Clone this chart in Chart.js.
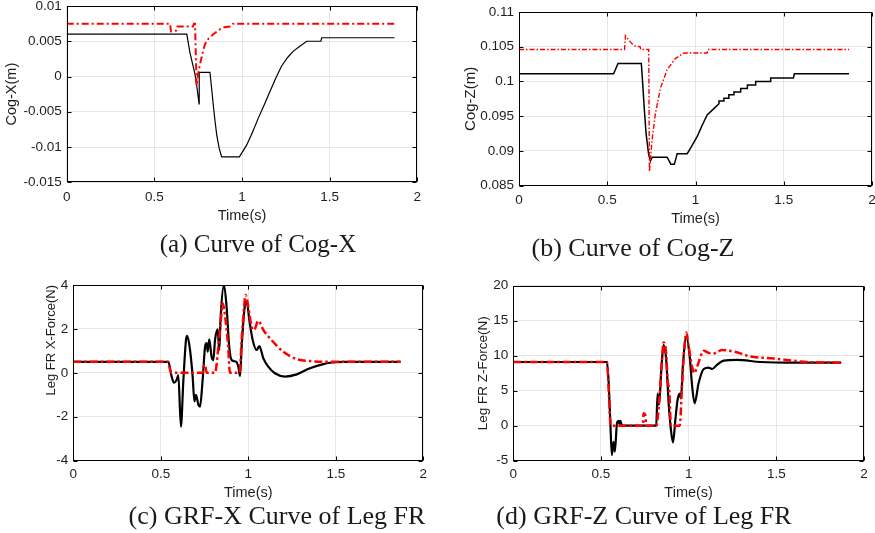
<!DOCTYPE html>
<html>
<head>
<meta charset="utf-8">
<script src="https://cdn.jsdelivr.net/npm/chart.js@4.4.1/dist/chart.umd.min.js"></script>
<style>
  body { margin: 0; background: #fff; width: 875px; height: 533px; position: relative; overflow: hidden; }
  canvas { position: absolute; }
  .cap { position: absolute; width: 400px; text-align: center; white-space: nowrap;
         font-family: 'Liberation Serif', 'Times New Roman', serif; font-size: 26px; line-height: 30px; color: #1a1a1a; }
</style>
</head>
<body>
<canvas id="pa" width="430" height="230" style="left:0;top:0"></canvas>
<canvas id="pb" width="435" height="230" style="left:440px;top:0"></canvas>
<canvas id="pc" width="440" height="240" style="left:0;top:270px"></canvas>
<canvas id="pd" width="435" height="240" style="left:440px;top:270px"></canvas>
<div class="cap" style="left:58px;top:229px;font-size:25px">(a) Curve of Cog-X</div>
<div class="cap" style="left:433px;top:233px">(b) Curve of Cog-Z</div>
<div class="cap" style="left:77px;top:501px">(c) GRF-X Curve of Leg FR</div>
<div class="cap" style="left:444px;top:501px">(d) GRF-Z Curve of Leg FR</div>
<script>
// shared x axis
const xTicks = [0, 0.5, 1, 1.5, 2]
const xTickLabels = ['0', '0.5', '1', '1.5', '2']

// (a) Cog-X
const cogXTicks = [-0.015, -0.01, -0.005, 0, 0.005, 0.01]
const cogXTickLabels = ['-0.015', '-0.01', '-0.005', '0', '0.005', '0.01']
const cogXTimeBlack = [0, 0.685, 0.703, 0.718, 0.732, 0.744, 0.755, 0.756, 0.817, 0.826, 0.836, 0.846, 0.856, 0.870, 0.884, 0.985, 1.0, 1.027, 1.06, 1.093, 1.127, 1.16, 1.193, 1.226, 1.26, 1.293, 1.33, 1.369, 1.45, 1.455, 1.87]
const cogXBlack = [0.006, 0.006, 0.0034, 0.0018, 0.0003, -0.0017, -0.0039, 0.0006, 0.0006, -0.0015, -0.004, -0.0063, -0.0083, -0.0102, -0.0114, -0.0114, -0.0108, -0.0097, -0.0079, -0.0059, -0.004, -0.0021, -0.0002, 0.0015, 0.0027, 0.0036, 0.0043, 0.0050, 0.0050, 0.0055, 0.0055]
const cogXTimeRed = [0, 0.589, 0.595, 0.625, 0.632, 0.72, 0.726, 0.732, 0.741, 0.75, 0.76, 0.775, 0.789, 0.81, 0.836, 0.874, 0.90, 0.932, 0.95, 1.87]
const cogXRed = [0.0075, 0.0075, 0.0064, 0.0065, 0.0071, 0.0071, 0.0075, 0.0075, -0.0013, 0.0004, 0.0017, 0.0033, 0.0046, 0.0054, 0.006, 0.0067, 0.007, 0.0071, 0.0075, 0.0075]

// (b) Cog-Z
const cogZTicks = [0.085, 0.09, 0.095, 0.1, 0.105, 0.11]
const cogZTickLabels = ['0.085', '0.09', '0.095', '0.1', '0.105', '0.11']
const cogZTimeBlack = [0, 0.536, 0.561, 0.693, 0.70, 0.71, 0.72, 0.735, 0.745, 0.755, 0.839, 0.85, 0.86, 0.88, 0.89, 0.896, 0.953, 0.972, 1.01, 1.038, 1.066, 1.104, 1.133, 1.133, 1.161, 1.161, 1.189, 1.189, 1.218, 1.218, 1.256, 1.256, 1.294, 1.294, 1.341, 1.341, 1.426, 1.426, 1.555, 1.56, 1.87]
const cogZBlack = [0.1011, 0.1011, 0.1026, 0.1026, 0.1000, 0.0960, 0.0925, 0.0894, 0.0886, 0.0891, 0.0891, 0.0886, 0.0881, 0.0881, 0.0890, 0.0896, 0.0896, 0.0904, 0.0921, 0.0937, 0.0952, 0.0961, 0.0968, 0.0972, 0.0972, 0.0976, 0.0976, 0.0981, 0.0981, 0.0985, 0.0985, 0.0990, 0.0990, 0.0995, 0.0995, 0.1000, 0.1000, 0.1005, 0.1005, 0.1011, 0.1011]
const cogZTimeRed = [0, 0.598, 0.603, 0.615, 0.631, 0.645, 0.659, 0.686, 0.69, 0.735, 0.739, 0.754, 0.773, 0.801, 0.839, 0.886, 0.934, 1.066, 1.07, 1.87]
const cogZRed = [0.1046, 0.1046, 0.1066, 0.1062, 0.1057, 0.1053, 0.1051, 0.1050, 0.1046, 0.1046, 0.0870, 0.0916, 0.0954, 0.0990, 0.1017, 0.1033, 0.1041, 0.1041, 0.1046, 0.1046]

// (c) GRF-X of leg FR
const grfXTicks = [-4, -2, 0, 2, 4]
const grfXTickLabels = ['-4', '-2', '0', '2', '4']
const grfXTimeBlack = [0, 0.543, 0.562, 0.575, 0.59, 0.6, 0.615, 0.629, 0.644, 0.651, 0.667, 0.682, 0.692, 0.701, 0.715, 0.724, 0.739, 0.753, 0.762, 0.768, 0.777, 0.79, 0.8, 0.81, 0.825, 0.834, 0.842, 0.861, 0.876, 0.891, 0.905, 0.93, 0.943, 0.953, 0.962, 0.981, 0.991, 1.006, 1.025, 1.048, 1.063, 1.086, 1.114, 1.152, 1.21, 1.277, 1.352, 1.429, 1.467, 1.55, 1.87]
const grfXBlack = [0.5, 0.5, -0.17, -0.45, -0.33, -0.1, -2.45, -0.33, 1.5, 1.68, 1.04, -0.17, -1.3, -1.0, -1.46, -1.54, -0.33, 1.19, 1.35, 0.96, 1.53, 0.74, 0.58, 1.5, 1.98, 1.04, 2.56, 4.0, 3.0, 1.19, 0.58, 0.51, 0.28, -0.14, 1.19, 3.09, 3.24, 2.4, 1.5, 1.04, 1.22, 0.66, 0.28, -0.02, -0.17, -0.07, 0.21, 0.4, 0.46, 0.5, 0.5]
const grfXTimeRed = [0, 0.543, 0.553, 0.562, 0.739, 0.746, 0.753, 0.762, 0.81, 0.829, 0.842, 0.853, 0.87, 0.885, 0.895, 0.95, 0.962, 0.976, 0.985, 1.0, 1.019, 1.033, 1.057, 1.086, 1.124, 1.2, 1.276, 1.352, 1.45, 1.87]
const grfXRed = [0.5, 0.5, 0.13, 0, 0, 0.3, 0.36, 0, 0, 1.19, 2.26, 3.17, 2.4, 1.19, 0, 0, 1.5, 3.0, 3.55, 3.0, 2.1, 1.95, 2.37, 1.95, 1.57, 0.96, 0.63, 0.54, 0.5, 0.5]

// (d) GRF-Z of leg FR
const grfZTicks = [-5, 0, 5, 10, 15, 20]
const grfZTickLabels = ['-5', '0', '5', '10', '15', '20']
const grfZTimeBlack = [0, 0.534, 0.543, 0.553, 0.562, 0.571, 0.579, 0.591, 0.6, 0.606, 0.611, 0.619, 0.815, 0.823, 0.831, 0.844, 0.857, 0.872, 0.886, 0.899, 0.911, 0.924, 0.937, 0.949, 0.956, 0.968, 0.987, 1.006, 1.02, 1.034, 1.057, 1.086, 1.114, 1.134, 1.162, 1.2, 1.276, 1.41, 1.6, 1.87]
const grfZBlack = [9.1, 9.1, 6.5, 0.8, -4.2, -2.3, -3.7, 0.3, 0.7, 0.25, 0.7, 0, 0, 4.6, 3.0, 8.0, 11.5, 9.4, 3.2, -0.6, -2.4, 0.8, 3.7, 4.6, 3.9, 8.9, 12.7, 9.9, 5.6, 3.2, 6.1, 8.1, 8.3, 8.1, 8.7, 9.3, 9.4, 9.1, 9.0, 9.0]
const grfZTimeRed = [0, 0.534, 0.543, 0.556, 0.739, 0.743, 0.753, 0.758, 0.815, 0.834, 0.848, 0.857, 0.872, 0.88, 0.89, 0.899, 0.949, 0.962, 0.976, 0.987, 1.0, 1.02, 1.032, 1.048, 1.086, 1.114, 1.143, 1.19, 1.257, 1.352, 1.486, 1.677, 1.87]
const grfZRed = [9.1, 9.1, 5.6, 0, 0, 1.77, 1.5, 0, 0, 4.1, 9.4, 11.9, 10.3, 6.5, 4.9, 0, 0, 5.6, 11.3, 13.3, 11.3, 8.4, 7.5, 8.4, 10.7, 10.4, 10.3, 10.8, 10.6, 9.9, 9.6, 9.1, 9.0]

const sans = "'Liberation Sans', Arial, sans-serif"
const ink = '#1e1e1e'

function pts(t, v) { return t.map((x, i) => ({ x: x, y: v[i] })) }

// black box round the plot with little inward ticks, matlab style
const frame = {
	id: 'frame',
	afterDatasetsDraw(chart) {
		const { ctx, chartArea: a, scales } = chart
		const L = Math.round(a.left) + 0.5, T = Math.round(a.top) + 0.5
		const R = Math.round(a.right) - 0.5, B = Math.round(a.bottom) - 0.5
		ctx.save()
		ctx.strokeStyle = '#000'
		ctx.lineWidth = 1
		ctx.strokeRect(L, T, R - L, B - T)
		ctx.beginPath()
		scales.x.ticks.forEach(t => {
			const px = Math.round(scales.x.getPixelForValue(t.value)) + 0.5
			ctx.moveTo(px, B); ctx.lineTo(px, B - 4)
			ctx.moveTo(px, T); ctx.lineTo(px, T + 4)
		})
		scales.y.ticks.forEach(t => {
			const py = Math.round(scales.y.getPixelForValue(t.value)) + 0.5
			ctx.moveTo(L, py); ctx.lineTo(L + 4, py)
			ctx.moveTo(R, py); ctx.lineTo(R - 4, py)
		})
		ctx.stroke()
		ctx.restore()
	}
}

function makePanel(id, p) {
	const cv = document.getElementById(id)
	const W = cv.width, H = cv.height
	const [pl, pt, pr, pb] = p.plot
	new Chart(cv, {
		type: 'line',
		data: {
			datasets: [
				{ data: pts(p.tR, p.vR), borderColor: '#ff0000', borderWidth: p.rw, borderDash: p.dash,
				  pointRadius: 0, fill: false, cubicInterpolationMode: p.smooth ? 'monotone' : 'default', tension: 0 },
				{ data: pts(p.tB, p.vB), borderColor: '#000', borderWidth: p.bw,
				  pointRadius: 0, fill: false, cubicInterpolationMode: p.smooth ? 'monotone' : 'default', tension: 0 },
			]
		},
		options: {
			responsive: false,
			animation: false,
			events: [],
			layout: { padding: { left: 0, top: pt, right: W - pr, bottom: 0 } },
			plugins: { legend: { display: false }, tooltip: { enabled: false } },
			scales: {
				x: {
					type: 'linear', min: 0, max: 2,
					afterBuildTicks: s => { s.ticks = xTicks.map(v => ({ value: v })) },
					afterFit: s => { s.height = H - pb; s.paddingLeft = 0; s.paddingRight = 0 },
					ticks: { callback: (v, i) => xTickLabels[i], color: ink, font: { family: sans, size: 13.5 },
					         padding: p.xPad, maxRotation: 0, autoSkip: false },
					grid: { color: '#e6e6e6', drawTicks: false },
					border: { display: false },
					title: { display: true, text: 'Time(s)', color: ink, font: { family: sans, size: 14.5 },
					         padding: { top: 0, bottom: p.xTitlePad } }
				},
				y: {
					type: 'linear', min: p.yTicks[0], max: p.yTicks[p.yTicks.length - 1],
					afterBuildTicks: s => { s.ticks = p.yTicks.map(v => ({ value: v })) },
					afterFit: s => { s.width = pl; s.paddingTop = 0; s.paddingBottom = 0 },
					ticks: { callback: (v, i) => p.yLabels[i], color: ink, font: { family: sans, size: 13.5 },
					         padding: 5, autoSkip: false },
					grid: { color: '#e6e6e6', drawTicks: false },
					border: { display: false },
					title: { display: true, text: p.yTitle, color: ink, font: { family: sans, size: p.yTitleSize },
					         align: p.yTitleAlign || 'center', padding: { top: p.yTitlePad, bottom: 0 } }
				}
			}
		},
		plugins: [frame]
	})
}

makePanel('pa', {
	plot: [66.7, 6, 417.3, 182.3],
	tB: cogXTimeBlack, vB: cogXBlack, tR: cogXTimeRed, vR: cogXRed,
	bw: 1.2, rw: 2, dash: [7, 3, 2, 3], smooth: false,
	yTicks: cogXTicks, yLabels: cogXTickLabels, yTitle: 'Cog-X(m)', yTitleSize: 14.5, yTitlePad: 3.3,
	xPad: 7, xTitlePad: 5.3
})
makePanel('pb', {
	plot: [79, 12, 432, 185.7],
	tB: cogZTimeBlack, vB: cogZBlack, tR: cogZTimeRed, vR: cogZRed,
	bw: 1.5, rw: 1.4, dash: [5, 2, 1.5, 2], smooth: false,
	yTicks: cogZTicks, yLabels: cogZTickLabels, yTitle: 'Cog-Z(m)', yTitleSize: 15, yTitlePad: 22,
	xPad: 6, xTitlePad: 2
})
makePanel('pc', {
	plot: [73.3, 15, 423.3, 190.7],
	tB: grfXTimeBlack, vB: grfXBlack, tR: grfXTimeRed, vR: grfXRed,
	bw: 2.2, rw: 2.5, dash: [8, 3, 2.5, 3], smooth: true,
	yTicks: grfXTicks, yLabels: grfXTickLabels, yTitle: 'Leg FR X-Force(N)', yTitleSize: 13, yTitlePad: 43.5,
	yTitleAlign: 'end',
	xPad: 5, xTitlePad: 8.3
})
makePanel('pd', {
	plot: [73.3, 15.7, 424, 190.7],
	tB: grfZTimeBlack, vB: grfZBlack, tR: grfZTimeRed, vR: grfZRed,
	bw: 2.2, rw: 2.5, dash: [8, 3, 2.5, 3], smooth: true,
	yTicks: grfZTicks, yLabels: grfZTickLabels, yTitle: 'Leg FR Z-Force(N)', yTitleSize: 13.5, yTitlePad: 35,
	xPad: 5, xTitlePad: 8.3
})
</script>
</body>
</html>
